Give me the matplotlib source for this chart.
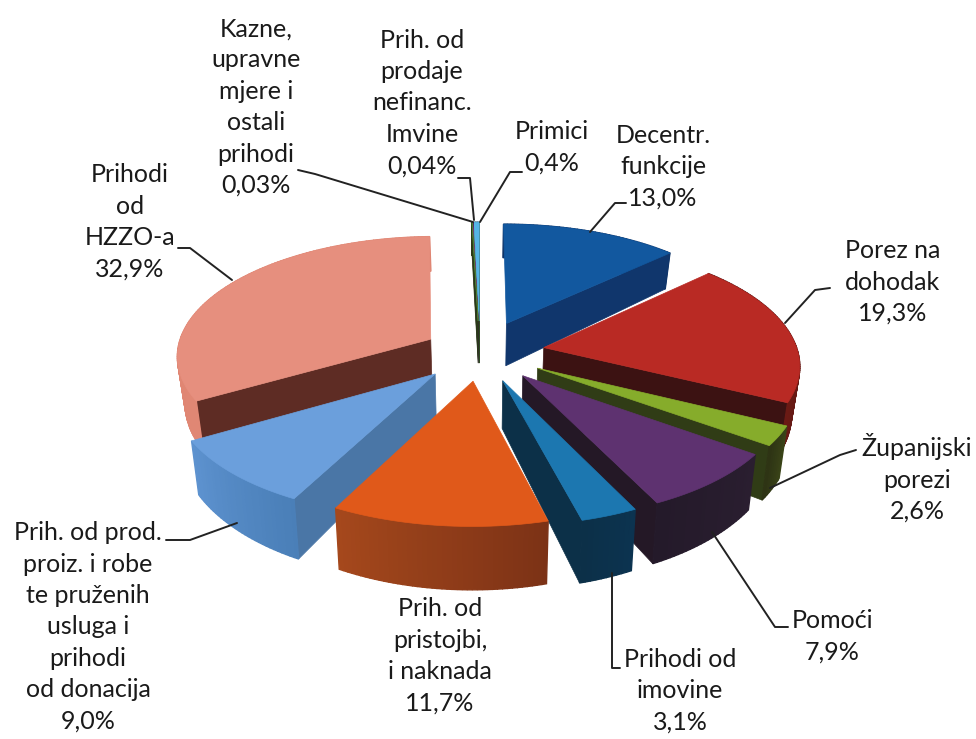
import numpy as np
import matplotlib
matplotlib.use("Agg")
import matplotlib.pyplot as plt
from matplotlib.patches import Polygon
from matplotlib.colors import to_rgb

plt.rcParams['font.family'] = ['Lato', 'DejaVu Sans']

categories = ["Decentr.\nfunkcije", "Porez na\ndohodak", "Županijski\nporezi", "Pomoći",
              "Prihodi od\nimovine", "Prih. od\npristojbi,\ni naknada",
              "Prih. od prod.\nproiz. i robe\nte pruženih\nusluga i\nprihodi\nod donacija",
              "Prihodi\nod\nHZZO-a", "Kazne,\nupravne\nmjere i\nostali\nprihodi",
              "Prih. od\nprodaje\nnefinanc.\nImvine", "Primici"]
values = [13.0, 19.3, 2.6, 7.9, 3.1, 11.7, 9.0, 32.9, 0.03, 0.04, 0.4]
value_labels = ["13,0%", "19,3%", "2,6%", "7,9%", "3,1%", "11,7%", "9,0%", "32,9%", "0,03%", "0,04%", "0,4%"]
explode = [0.27, 0.255, 0.26, 0.255, 0.25, 0.24, 0.25, 0.225, 0.27, 0.27, 0.27]
top_colors = ["#12589F", "#B92A24", "#86AC2B", "#5E3270", "#1C77B0", "#E0591A", "#6B9FDC", "#E68F7E", "#4A7A30", "#7A3A80", "#55B5E5"]
rim_start = ["#0E3468", "#4A1414", "#3A4418", "#2A1E30", "#0C3350", "#7C3216", "#4A7FB8", "#E08774", "#2A3A18", "#3A1A40", "#2A5A70"]
rim_end = ["#0E3468", "#6A1A14", "#2E3414", "#241A2A", "#0C3048", "#A5481C", "#5D92CF", "#DE8370", "#2A3A18", "#3A1A40", "#2A5A70"]
wall_colors = ["#10366C", "#3C1212", "#303C16", "#241826", "#0C3048", "#7C3216", "#4A76A6", "#5E2C24", "#2A3A18", "#3A1A40", "#2F4A24"]

label_pos = [(663, 167), (893, 282), (917, 478), (832, 636), (680, 691), (440, 656),
             (88, 627), (130, 222), (256, 107), (422, 103), (552, 147)]
leaders = [[(626, 203), (615, 203), (590, 232)],
           [(830, 288), (815, 290), (785, 323)],
           [(856, 450), (840, 455), (770, 488)],
           [(788, 627), (775, 627), (712, 532)],
           [(620, 668), (612, 668), (612, 573)],
           None,
           [(166, 540), (190, 540), (237, 523)],
           [(178, 248), (190, 248), (232, 280)],
           [(298, 170), (315, 174), (473, 222)],
           [(458, 178), (470, 178), (474, 220)],
           [(522, 172), (510, 172), (480, 222)]]

CX, CY, RX, RY, K, DEPTH, SHRINK = 480.0, 352.0, 254.0, 118.7, 0.127, 45.0, 0.025

fig = plt.figure(figsize=(9.76, 7.39), dpi=100, facecolor="white")
ax = fig.add_axes([0, 0, 1, 1])
ax.set_xlim(0, 976)
ax.set_ylim(739, 0)
ax.axis("off")


def project(u, v):
    p = 1.0 / (1.0 - K * v)
    return CX + RX * u * p, CY + RY * v * p, DEPTH * p ** 2


def pts(u, v):
    x, y, d = project(np.asarray(u, float), np.asarray(v, float))
    return np.column_stack([x, y]), np.column_stack([CX + (x - CX) * (1 - SHRINK), y + d])


def blend(a, b, t):
    a, b = np.array(to_rgb(a)), np.array(to_rgb(b))
    return tuple(a + (b - a) * t)


total = sum(values)
fracs = np.cumsum([0] + values) / total * 2 * np.pi
wedges = []
for i in range(len(values)):
    a0, a1 = fracs[i], fracs[i + 1]
    mid = (a0 + a1) / 2
    ou, ov = explode[i] * np.sin(mid), -explode[i] * np.cos(mid)
    wedges.append((ov, i, a0, a1, ou, ov))

for _, i, a0, a1, ou, ov in sorted(wedges, key=lambda w: w[0]):
    th = np.linspace(a0, a1, max(4, int((a1 - a0) * 60)))
    u = ou + np.sin(th)
    v = ov - np.cos(th)
    top, bot = pts(u, v)
    atop, abot = pts([ou], [ov])

    def rim(mask):
        for j in range(len(th) - 1):
            if mask(th[j]):
                t = j / max(1, len(th) - 2)
                c = blend(rim_start[i], rim_end[i], t)
                ax.add_patch(Polygon([top[j], top[j + 1], bot[j + 1], bot[j]], closed=True,
                                     facecolor=c, edgecolor=c, lw=1.0, zorder=2))

    rim(lambda t: -np.cos(t) <= 0)
    if np.sin(a1) > 0:
        ax.add_patch(Polygon([atop[0], top[-1], bot[-1], abot[0]], closed=True,
                             facecolor=wall_colors[i], edgecolor=wall_colors[i], lw=0.5, zorder=2))
    if np.sin(a0) < 0:
        ax.add_patch(Polygon([atop[0], top[0], bot[0], abot[0]], closed=True,
                             facecolor=wall_colors[i], edgecolor=wall_colors[i], lw=0.5, zorder=2))
    rim(lambda t: -np.cos(t) > 0)
    ax.add_patch(Polygon(np.vstack([atop, top]), closed=True, facecolor=top_colors[i],
                         edgecolor=top_colors[i], lw=0.5, zorder=2))

for i, (cat, val) in enumerate(zip(categories, value_labels)):
    ax.text(label_pos[i][0], label_pos[i][1], cat + "\n" + val, ha="center", va="center",
            fontsize=18, color="#1a1a1a", linespacing=1.44, zorder=5)
    if leaders[i]:
        xs, ys = zip(*leaders[i])
        ax.plot(xs, ys, color="#222222", lw=1.4, zorder=4, solid_capstyle="round")

fig.savefig("out.png", dpi=100, facecolor="white")
